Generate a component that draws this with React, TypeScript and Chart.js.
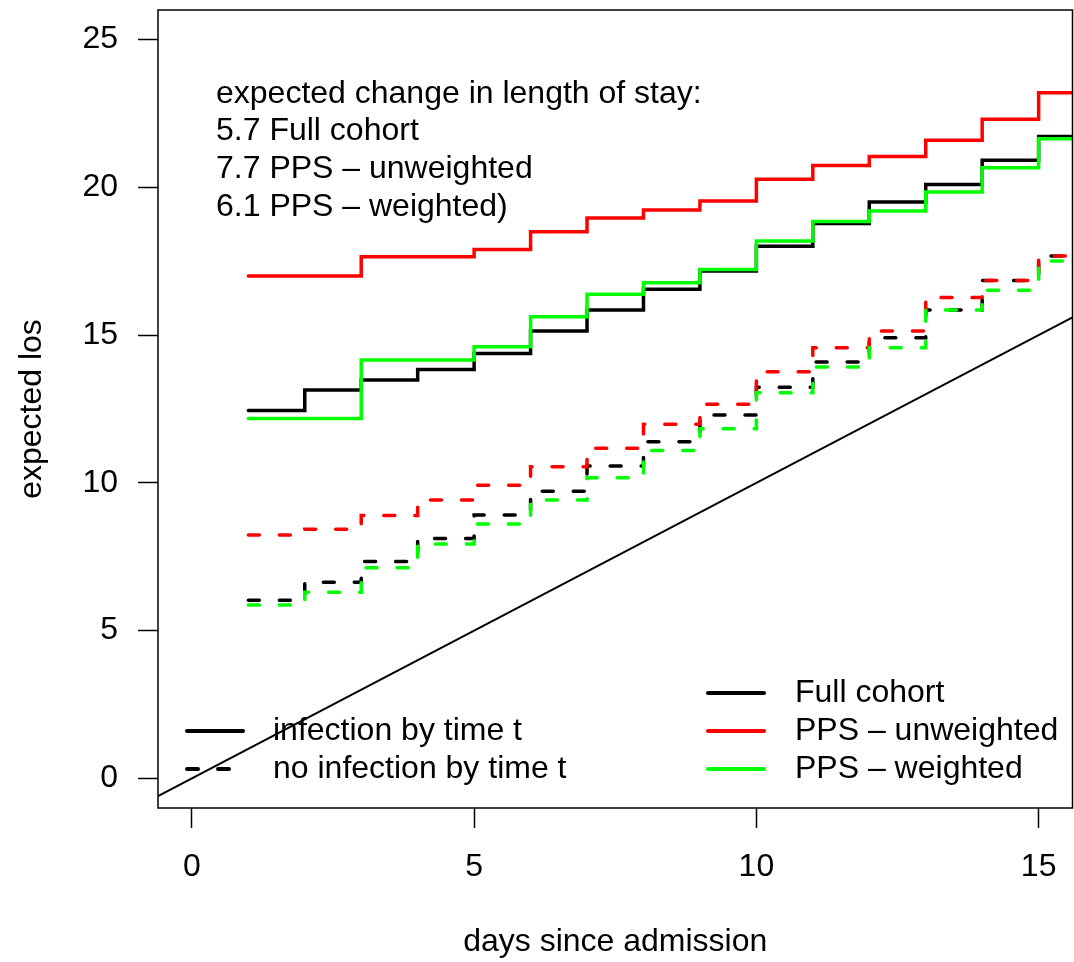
import { useEffect, useRef } from "react";
import { Chart, registerables } from "chart.js";

Chart.register(...registerables);

// Days since admission at which the expected length of stay is evaluated
const days = [1, 2, 3, 4, 5, 6, 7, 8, 9, 10, 11, 12, 13, 14, 15];

// Expected LOS given an infection by time t
const fullInfected = [12.45, 13.14, 13.48, 13.84, 14.38, 15.14, 15.85, 16.55, 17.17, 18.01, 18.78, 19.5, 20.1, 20.92, 21.72];
const ppsUnweightedInfected = [17.0, 17.0, 17.65, 17.65, 17.9, 18.5, 18.96, 19.23, 19.54, 20.27, 20.74, 21.04, 21.59, 22.3, 23.2];
const ppsWeightedInfected = [12.18, 12.18, 14.16, 14.16, 14.61, 15.62, 16.38, 16.77, 17.22, 18.18, 18.84, 19.2, 19.84, 20.66, 21.64];

// Expected LOS given no infection by time t
const fullUninfected = [6.03, 6.64, 7.34, 8.12, 8.91, 9.72, 10.57, 11.39, 12.3, 13.24, 14.09, 14.91, 15.85, 16.85, 17.68];
const ppsUnweightedUninfected = [8.24, 8.43, 8.9, 9.42, 9.92, 10.55, 11.17, 11.98, 12.66, 13.76, 14.57, 15.14, 16.27, 16.85, 17.68];
const ppsWeightedUninfected = [5.87, 6.3, 7.13, 7.93, 8.61, 9.42, 10.17, 11.1, 11.83, 13.05, 13.92, 14.57, 15.85, 16.52, 17.51];

const xTicks = [0, 5, 10, 15];
const yTicks = [0, 5, 10, 15, 20, 25];
const xRange = [-0.6, 15.6];
const yRange = [-1, 26];

const annotationLines = [
  "expected change in length of stay:",
  "5.7 Full cohort",
  "7.7 PPS \u2013 unweighted",
  "6.1 PPS \u2013 weighted)",
];
const groupLabels = ["infection by time t", "no infection by time t"];
const sourceLabels = ["Full cohort", "PPS \u2013 unweighted", "PPS \u2013 weighted"];
const sourceColors = ["#000000", "#ff0000", "#00ff00"];

const FONT = '"Liberation Sans", Arial, Helvetica, sans-serif';
const FONT_SIZE = 32;
const DASH = [11, 20];

// Step curve that holds the last value up to the right edge of the plot
function stepPoints(values: number[]) {
  const pts = days.map((d, i) => ({ x: d, y: values[i] }));
  pts.push({ x: xRange[1], y: values[values.length - 1] });
  return pts;
}

function stepDataset(label: string, values: number[], color: string, dashed: boolean) {
  return {
    label,
    data: stepPoints(values),
    borderColor: color,
    backgroundColor: color,
    borderWidth: 3.5,
    borderDash: dashed ? DASH : [],
    borderCapStyle: "round" as const,
    borderJoinStyle: "miter" as const,
    stepped: true,
    pointRadius: 0,
    fill: false,
    clip: 0,
  };
}

const overlayPlugin = {
  id: "overlay",
  afterDatasetsDraw(chart: any) {
    const { ctx, chartArea: a } = chart;
    ctx.save();
    // plot frame
    ctx.strokeStyle = "#000";
    ctx.lineWidth = 1.5;
    ctx.setLineDash([]);
    ctx.strokeRect(a.left, a.top, a.right - a.left, a.bottom - a.top);

    ctx.font = `${FONT_SIZE}px ${FONT}`;
    ctx.fillStyle = "#000";

    // annotation block
    ctx.textAlign = "left";
    ctx.textBaseline = "alphabetic";
    annotationLines.forEach((t, i) => {
      ctx.fillText(t, a.left + 58, a.top + 92.5 + i * 37.8);
    });

    // legends
    ctx.textBaseline = "middle";
    ctx.lineWidth = 4;
    ctx.lineCap = "round";
    const leftRows = [a.bottom - 77, a.bottom - 39];
    groupLabels.forEach((t, i) => {
      const y = leftRows[i];
      ctx.strokeStyle = "#000";
      ctx.setLineDash(i === 1 ? DASH : []);
      ctx.beginPath();
      ctx.moveTo(a.left + 29, y);
      ctx.lineTo(a.left + 85, y);
      ctx.stroke();
      ctx.fillText(t, a.left + 115, y);
    });
    const rightRows = [a.bottom - 115, a.bottom - 77, a.bottom - 39];
    ctx.setLineDash([]);
    sourceLabels.forEach((t, i) => {
      const y = rightRows[i];
      ctx.strokeStyle = sourceColors[i];
      ctx.beginPath();
      ctx.moveTo(a.left + 550, y);
      ctx.lineTo(a.left + 606, y);
      ctx.stroke();
      ctx.fillText(t, a.left + 637, y);
    });
    ctx.restore();
  },
};

export default function App() {
  const canvasRef = useRef<HTMLCanvasElement | null>(null);

  useEffect(() => {
    const canvas = canvasRef.current;
    if (!canvas) return;

    const tickFont = { family: FONT, size: FONT_SIZE };

    const chart = new Chart(canvas, {
      type: "line",
      data: {
        datasets: [
          stepDataset("PPS - weighted, infection", ppsWeightedInfected, sourceColors[2], false),
          stepDataset("PPS - weighted, no infection", ppsWeightedUninfected, sourceColors[2], true),
          stepDataset("PPS - unweighted, infection", ppsUnweightedInfected, sourceColors[1], false),
          stepDataset("PPS - unweighted, no infection", ppsUnweightedUninfected, sourceColors[1], true),
          stepDataset("Full cohort, infection", fullInfected, sourceColors[0], false),
          stepDataset("Full cohort, no infection", fullUninfected, sourceColors[0], true),
          {
            label: "identity",
            data: [
              { x: xRange[0], y: xRange[0] },
              { x: xRange[1], y: xRange[1] },
            ],
            borderColor: "#000",
            borderWidth: 2,
            pointRadius: 0,
            fill: false,
            clip: 0,
          } as any,
        ],
      },
      options: {
        animation: false,
        responsive: false,
        maintainAspectRatio: false,
        events: [],
        layout: { padding: { top: 10, right: 1.5, left: 0, bottom: 0 } },
        plugins: {
          legend: { display: false },
          tooltip: { enabled: false },
        },
        scales: {
          x: {
            type: "linear",
            position: "bottom",
            min: xRange[0],
            max: xRange[1],
            afterBuildTicks: (s: any) => {
              s.ticks = xTicks.map((v) => ({ value: v }));
            },
            afterFit: (s: any) => {
              s.height = 154;
              s.paddingLeft = 0;
              s.paddingRight = 0;
            },
            ticks: {
              font: tickFont,
              color: "#000",
              padding: 20,
              maxRotation: 0,
              minRotation: 0,
              includeBounds: false,
              autoSkip: false,
            },
            grid: {
              display: true,
              drawOnChartArea: false,
              drawTicks: true,
              tickLength: 20,
              tickColor: "#000",
              tickWidth: 1.5,
            },
            border: { display: false },
            title: {
              display: true,
              text: "days since admission",
              font: tickFont,
              color: "#000",
              padding: { top: 0, bottom: 0.5 },
            },
          },
          y: {
            type: "linear",
            position: "left",
            min: yRange[0],
            max: yRange[1],
            afterBuildTicks: (s: any) => {
              s.ticks = yTicks.map((v) => ({ value: v }));
            },
            afterFit: (s: any) => {
              s.width = 158;
              s.paddingTop = 0;
              s.paddingBottom = 0;
            },
            ticks: {
              font: tickFont,
              color: "#000",
              padding: 20,
              includeBounds: false,
              autoSkip: false,
            },
            grid: {
              display: true,
              drawOnChartArea: false,
              drawTicks: true,
              tickLength: 20,
              tickColor: "#000",
              tickWidth: 1.5,
            },
            border: { display: false },
            title: {
              display: true,
              text: "expected los",
              font: tickFont,
              color: "#000",
              padding: { top: 13, bottom: 0 },
            },
          },
        },
      },
      plugins: [overlayPlugin],
    });

    return () => {
      chart.destroy();
    };
  }, []);

  return (
    <div
      style={{
        position: "absolute",
        left: 0,
        top: 0,
        width: 1074,
        height: 962,
        background: "#fff",
      }}
    >
      <canvas ref={canvasRef} width={1074} height={962} style={{ width: 1074, height: 962 }} />
    </div>
  );
}
